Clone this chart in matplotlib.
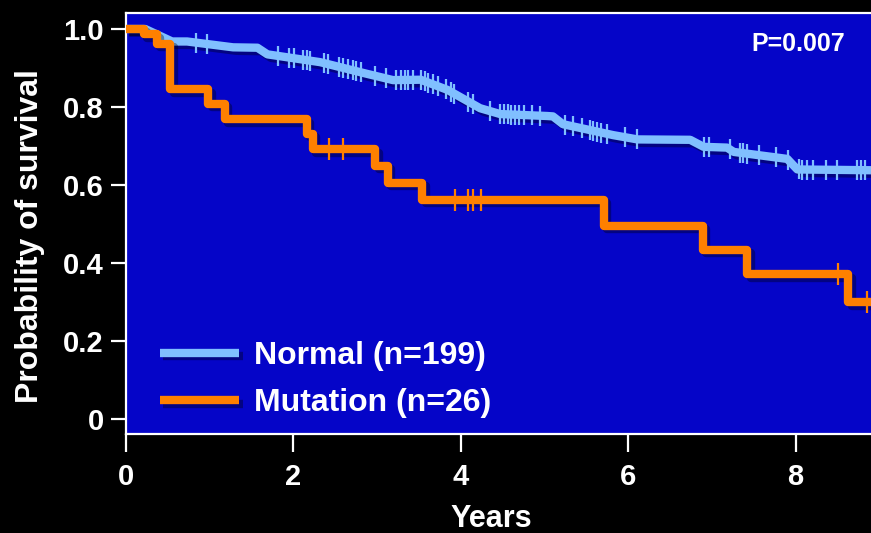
import numpy as np
import matplotlib
matplotlib.use("Agg")
import matplotlib.pyplot as plt
import matplotlib.patheffects as pe

# Normal (n=199): curve (years, survival)
normal_t = [0, 0.23, 0.55, 0.73, 1.28, 1.57, 1.69, 2.32, 2.88, 3.19, 3.52, 3.84, 3.99,
            4.23, 4.47, 5.03, 5.10, 5.22, 5.82, 6.11, 6.74, 6.90, 7.18, 7.26, 7.90, 8.02, 8.90]
normal_s = [1.0, 1.0, 0.968, 0.968, 0.953, 0.952, 0.935, 0.915, 0.885, 0.869, 0.870, 0.844, 0.826,
            0.797, 0.782, 0.777, 0.776, 0.756, 0.728, 0.717, 0.716, 0.698, 0.696, 0.685, 0.667, 0.640, 0.638]
normal_cens = [0.84, 0.97, 1.81, 1.95, 2.01, 2.11, 2.16, 2.20, 2.37, 2.41, 2.54, 2.59, 2.65, 2.71,
               2.75, 2.81, 2.98, 3.11, 3.23, 3.28, 3.33, 3.37, 3.43, 3.52, 3.57, 3.61, 3.67, 3.73,
               3.82, 3.88, 3.92, 4.09, 4.15, 4.35, 4.47, 4.51, 4.56, 4.60, 4.65, 4.70, 4.75, 4.85,
               4.94, 5.24, 5.34, 5.45, 5.54, 5.58, 5.63, 5.68, 5.75, 5.96, 6.11, 6.91, 6.96, 7.21,
               7.33, 7.37, 7.42, 7.56, 7.77, 7.91, 8.04, 8.08, 8.13, 8.21, 8.36, 8.49, 8.73, 8.78, 8.83]

# Mutation (n=26): step curve
mut_t = [0, 0.21, 0.37, 0.53, 0.985, 1.18, 2.16, 2.23, 2.98, 3.13, 3.54, 5.71, 6.89, 7.42, 8.63, 8.90]
mut_s = [1.0, 0.987, 0.962, 0.846, 0.808, 0.769, 0.731, 0.692, 0.649, 0.606, 0.562, 0.496, 0.434,
         0.372, 0.30, 0.30]
mut_cens = [2.42, 2.59, 3.93, 4.08, 4.15, 4.24, 8.51, 8.85]

xticks = [0, 2, 4, 6, 8]
yticks = [0, 0.2, 0.4, 0.6, 0.8, 1.0]
ytick_labels = ["0", "0.2", "0.4", "0.6", "0.8", "1.0"]

c_bg = "#0505C8"
c_norm = "#80BFFF"
c_mut = "#FF8000"

plt.rcParams['font.family'] = ['Liberation Sans', 'DejaVu Sans']
plt.rcParams['font.weight'] = 'bold'

fig = plt.figure(figsize=(8.71, 5.33), dpi=100, facecolor="black")
ax = fig.add_axes([126 / 871, 1 - 434 / 533, 1 - 126 / 871, (434 - 13) / 533])
ax.set_facecolor(c_bg)

shadow = [pe.SimpleLineShadow(offset=(2.5, -2.5), shadow_color="black", alpha=0.35), pe.Normal()]

ax.plot(normal_t, normal_s, color=c_norm, lw=6, solid_joinstyle="round",
        solid_capstyle="butt", path_effects=shadow, label="Normal (n=199)", zorder=3)
ax.plot(normal_cens, np.interp(normal_cens, normal_t, normal_s), linestyle="none",
        marker="|", markersize=15, mew=1.6, color=c_norm, zorder=3)

ax.plot(mut_t, mut_s, color=c_mut, lw=6, drawstyle="steps-post", solid_joinstyle="round",
        solid_capstyle="butt", path_effects=shadow, label="Mutation (n=26)", zorder=4)
idx = np.searchsorted(mut_t, mut_cens, side="right") - 1
ax.plot(mut_cens, np.array(mut_s)[idx], linestyle="none",
        marker="|", markersize=16, mew=1.6, color=c_mut, zorder=4)

ax.set_xlim(0, 8.90)
ax.set_ylim(-0.038, 1.041)
ax.set_xticks(xticks)
ax.set_xticklabels([str(x) for x in xticks])
ax.set_yticks(yticks)
ax.set_yticklabels(ytick_labels)

for s in ["left", "bottom", "top"]:
    ax.spines[s].set_color("white")
    ax.spines[s].set_linewidth(1.6)
ax.spines["right"].set_visible(False)
ax.tick_params(axis="both", colors="white", labelsize=21, width=1.6)
ax.tick_params(axis="y", length=11, pad=5)
ax.tick_params(axis="x", length=13, pad=8)

ax.set_xlabel("Years", color="white", fontsize=22, fontweight="bold")
ax.xaxis.set_label_coords((491 - 126) / 745, -0.166)
ax.set_ylabel("Probability of survival", color="white", fontsize=23, fontweight="bold")
ax.yaxis.set_label_coords(-0.109, 0.47)

ax.text(0.965, 0.926, "P=0.007", transform=ax.transAxes, ha="right", va="center",
        color="white", fontsize=18, fontweight="bold")

leg = ax.legend(loc="lower left", bbox_to_anchor=(0.045, 0.037), frameon=False,
                fontsize=23, handlelength=2.5, handletextpad=0.45, labelspacing=0.55,
                borderaxespad=0, borderpad=0)
for t in leg.get_texts():
    t.set_color("white")
for h in leg.get_lines():
    h.set_linewidth(6)

fig.savefig("out.png", dpi=100, facecolor="black")
